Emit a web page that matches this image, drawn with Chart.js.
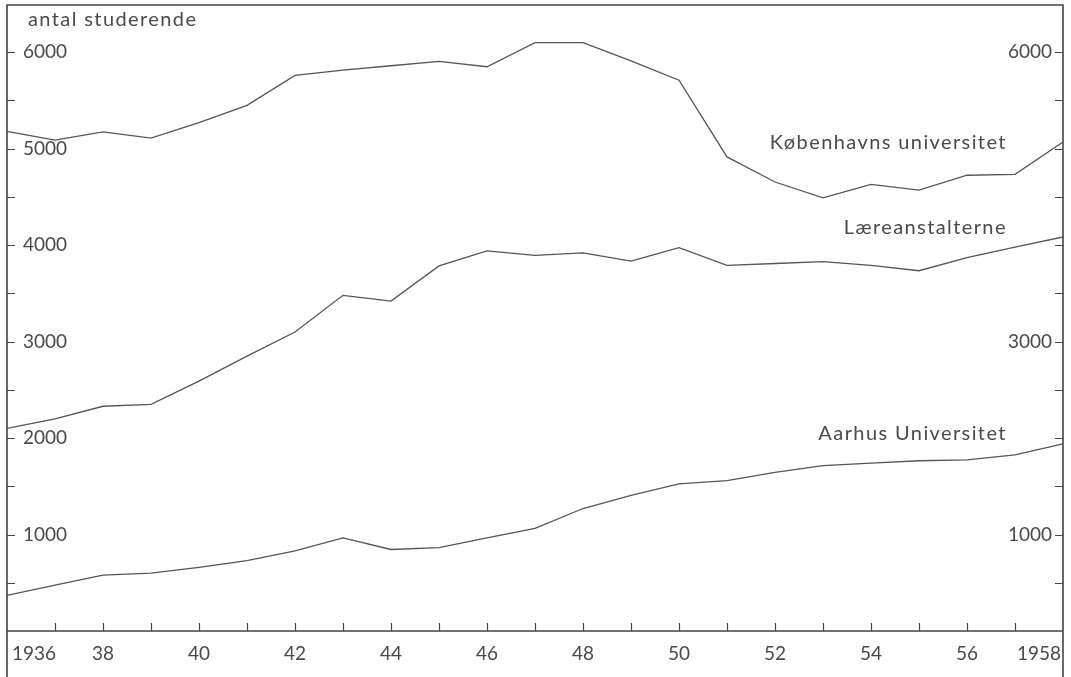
<!DOCTYPE html>
<html>
<head>
<meta charset="utf-8">
<script src="https://cdn.jsdelivr.net/npm/chart.js@4/dist/chart.umd.min.js"></script>
<style>
  html, body { margin: 0; padding: 0; background: #fff; }
  #wrap { width: 1071px; height: 677px; }
</style>
</head>
<body>
<div id="wrap"><canvas id="chart" width="1071" height="677"></canvas></div>
<script>
// data
const years = [1936, 1937, 1938, 1939, 1940, 1941, 1942, 1943, 1944, 1945, 1946, 1947,
               1948, 1949, 1950, 1951, 1952, 1953, 1954, 1955, 1956, 1957, 1958];
const kobenhavn = [5180, 5090, 5175, 5110, 5270, 5450, 5760, 5815, 5860, 5905, 5850, 6100,
                   6100, 5910, 5710, 4915, 4655, 4490, 4630, 4570, 4725, 4735, 5070];
const laereanstalter = [2100, 2200, 2330, 2350, 2590, 2850, 3100, 3480, 3420, 3785, 3940, 3895,
                        3920, 3835, 3975, 3790, 3810, 3830, 3790, 3735, 3870, 3980, 4085];
const aarhus = [370, 475, 580, 600, 660, 730, 830, 965, 845, 865, 965, 1065,
                1270, 1405, 1525, 1560, 1645, 1715, 1740, 1765, 1775, 1825, 1940];
const seriesNames = ['Københavns universitet', 'Læreanstalterne', 'Aarhus Universitet'];
const xTickYears = [1936, 1938, 1940, 1942, 1944, 1946, 1948, 1950, 1952, 1954, 1956, 1958];
const xTickLabels = ['1936', '38', '40', '42', '44', '46', '48', '50', '52', '54', '56', '1958'];
const yLabelsLeft = [1000, 2000, 3000, 4000, 5000, 6000];
const yLabelsRight = [1000, 3000, 6000];
const yAxisTitle = 'antal studerende';

const INK = '#4a4a4a';
const LINE = '#555555';
const FONT = 'Lato, "DejaVu Sans", sans-serif';

// where the series names sit (year of right edge, value of text middle)
const nameAnchors = [[1956.83, 5060], [1956.83, 4180], [1956.83, 2050]];

const points = arr => years.map((yr, i) => ({ x: yr, y: arr[i] }));

const framePlugin = {
  id: 'frame',
  afterDraw(chart) {
    const ctx = chart.ctx;
    const xs = chart.scales.x;
    const ys = chart.scales.y;
    const a = chart.chartArea;
    ctx.save();
    ctx.strokeStyle = '#444';
    ctx.lineWidth = 1.6;
    // outer frame and base line
    ctx.beginPath();
    ctx.moveTo(a.left, chart.height);
    ctx.lineTo(a.left, a.top);
    ctx.lineTo(a.right, a.top);
    ctx.lineTo(a.right, chart.height);
    ctx.moveTo(a.left, a.bottom);
    ctx.lineTo(a.right, a.bottom);
    ctx.stroke();

    // inward tick marks
    ctx.lineWidth = 1.2;
    ctx.beginPath();
    for (let v = 500; v <= 6000; v += 500) {
      const py = Math.round(ys.getPixelForValue(v)) + 0.5;
      ctx.moveTo(a.left, py); ctx.lineTo(a.left + 8, py);
      ctx.moveTo(a.right, py); ctx.lineTo(a.right - 8, py);
    }
    for (let yr = years[1]; yr < years[years.length - 1]; yr++) {
      const px = Math.round(xs.getPixelForValue(yr)) + 0.5;
      ctx.moveTo(px, a.bottom); ctx.lineTo(px, a.bottom - 8);
    }
    ctx.stroke();

    // tick labels
    ctx.fillStyle = INK;
    ctx.font = '19px ' + FONT;
    ctx.textBaseline = 'middle';
    ctx.textAlign = 'left';
    yLabelsLeft.forEach(v => ctx.fillText(String(v), a.left + 16, ys.getPixelForValue(v)));
    ctx.textAlign = 'right';
    yLabelsRight.forEach(v => ctx.fillText(String(v), a.right - 11, ys.getPixelForValue(v)));
    xTickYears.forEach((yr, i) => {
      const px = xs.getPixelForValue(yr);
      let align = 'center', off = 0;
      if (i === 0) { align = 'left'; off = 5; }
      if (i === xTickYears.length - 1) { align = 'right'; off = -2; }
      ctx.textAlign = align;
      ctx.fillText(xTickLabels[i], px + off, a.bottom + 23);
    });

    // axis title and series names
    ctx.font = '20px ' + FONT;
    ctx.letterSpacing = '1.4px';
    ctx.textAlign = 'left';
    ctx.fillText(yAxisTitle, a.left + 21, a.top + 15);
    ctx.textAlign = 'right';
    nameAnchors.forEach(([yr, v], i) => {
      ctx.fillText(seriesNames[i], xs.getPixelForValue(yr), ys.getPixelForValue(v));
    });
    ctx.restore();
  }
};

const lineStyle = {
  borderColor: LINE,
  borderWidth: 1.3,
  pointRadius: 0,
  tension: 0,
  fill: false
};

new Chart(document.getElementById('chart'), {
  type: 'line',
  data: {
    datasets: [
      { label: seriesNames[0], data: points(kobenhavn), ...lineStyle },
      { label: seriesNames[1], data: points(laereanstalter), ...lineStyle },
      { label: seriesNames[2], data: points(aarhus), ...lineStyle }
    ]
  },
  options: {
    responsive: false,
    animation: false,
    layout: { padding: { left: 7, right: 8, top: 5, bottom: 46 } },
    plugins: { legend: { display: false }, tooltip: { enabled: false } },
    scales: {
      x: { type: 'linear', min: 1936, max: 1958, display: false },
      y: { type: 'linear', min: 0, max: 6490, display: false }
    }
  },
  plugins: [framePlugin]
});
</script>
</body>
</html>
